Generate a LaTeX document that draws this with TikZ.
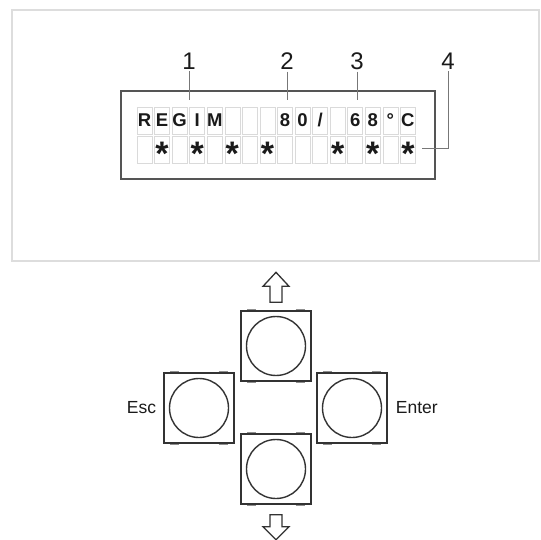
\documentclass[tikz,border=0pt]{standalone}
\usepackage{fontspec}
\setmainfont{Liberation Sans}
\usepackage{tikz}
\usetikzlibrary{positioning,calc}
\definecolor{framegray}{HTML}{DDDDDD}
\definecolor{lcdgray}{HTML}{555555}
\definecolor{cellgray}{HTML}{DADADA}
\definecolor{leadgray}{HTML}{777777}
\definecolor{keygray}{HTML}{333333}
\definecolor{inkgray}{HTML}{1A1A1A}

\begin{document}
\begin{tikzpicture}[x=1pt, y=-1pt]
        \tikzset{
            frame/.style={draw=framegray, line width=1.8pt},
            lcd/.style={draw=lcdgray, line width=1.6pt, minimum width=314pt, minimum height=88pt, inner sep=0pt},
            cell/.style={draw=cellgray, line width=0.6pt, fill=white, minimum width=15pt, minimum height=27pt, inner sep=0pt, text height=13pt, text depth=0pt, font=\fontsize{18.5}{18.5}\selectfont\bfseries, text=inkgray},
            star/.style={anchor=base, inner sep=0pt, font=\fontsize{34}{34}\selectfont\bfseries, text=inkgray},
            num/.style={font=\fontsize{24}{24}\selectfont, text=inkgray, inner sep=2pt},
            lead/.style={draw=leadgray, line width=0.8pt},
            keybox/.style={draw=keygray, line width=1.4pt, minimum size=70pt, inner sep=0pt},
            keydisc/.style={draw=keygray, line width=1.4pt, circle, minimum size=59pt, inner sep=0pt},
            tab/.style={draw=keygray!55, line width=1.3pt},
            io/.style={font=\fontsize{17.5}{17.5}\selectfont, text=inkgray, inner sep=2pt},
            keyarrow/.style={draw=keygray, line width=1.3pt, fill=white}
        }
        \useasboundingbox (0,0) rectangle (541,540);

        % Display panel
        \draw[frame] (12,10) rectangle (539,261);
        \node[lcd] (lcd) at (278,135) {};

        % Character cells
        \foreach \ch [count=\i] in {R,E,G,I,M,{},{},{},8,0,/,{},6,8,°,C} {
            \node[cell] (a\i) at ({144.5+17.56*(\i-1)},120.5) {\ch};
            \node[cell] (b\i) at ({144.5+17.56*(\i-1)},149.5) {};
        }
        \foreach \i in {2,4,6,8,12,14,16}
            \node[star] (s\i) at ($(b\i.center)+(0,16.5)$) {*};

        % Callouts
        \node[num] (n1) at (189,61) {1};
        \node[num] (n2) at (287,61) {2};
        \node[num] (n3) at (357,61) {3};
        \node[num] (n4) at (448,61) {4};
        \coordinate (t1) at (189,100);
        \coordinate (t2) at (287,100);
        \coordinate (t3) at (357,100);
        \coordinate (t4) at (422,148);
        \draw[lead] (n1) -- (t1);
        \draw[lead] (n2) -- (t2);
        \draw[lead] (n3) -- (t3);
        \draw[lead] (n4) |- (t4);

        % Keys
        \node[keybox] (up) at (276,346) {};
        \node[keybox] (esc) at (199,408) {};
        \node[keybox] (enter) at (352,408) {};
        \node[keybox] (down) at (276,469) {};
        \foreach \k in {up,esc,enter,down} {
            \node[keydisc] (\k-disc) at (\k) {};
            \draw[tab] ($(\k.north west)+(7,-1)$) -- +(9,0);
            \draw[tab] ($(\k.north east)+(-16,-1)$) -- +(9,0);
            \draw[tab] ($(\k.south west)+(7,1)$) -- +(9,0);
            \draw[tab] ($(\k.south east)+(-16,1)$) -- +(9,0);
        }
        \node[io, left=5pt of esc] (esclabel) {Esc};
        \node[io, right=6pt of enter] (enterlabel) {Enter};

        % Direction arrows
        \coordinate (upbase) at ($(up.north)+(0,-8)$);
        \coordinate (downbase) at ($(down.south)+(0,10)$);
        \draw[keyarrow] (upbase) ++(-6,0) -- ++(0,-16) -- ++(-7,0) -- ++(13,-14) -- ++(13,14) -- ++(-7,0) -- ++(0,16) -- cycle;
        \draw[keyarrow] (downbase) ++(-6,0) -- ++(0,12) -- ++(-7,0) -- ++(13,13) -- ++(13,-13) -- ++(-7,0) -- ++(0,-12) -- cycle;
\end{tikzpicture}
\end{document}
